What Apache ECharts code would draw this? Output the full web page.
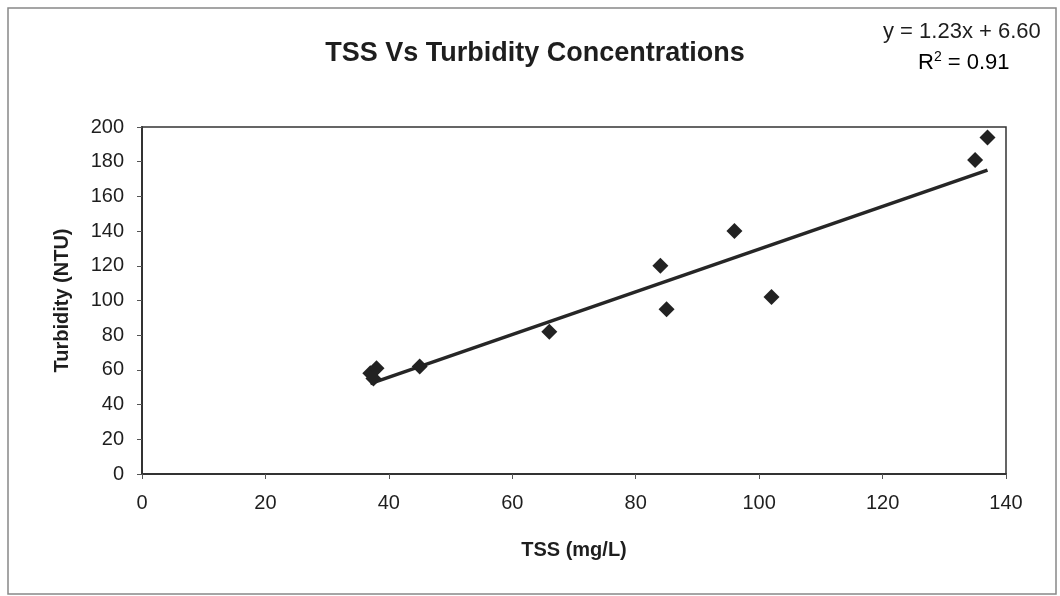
<!DOCTYPE html>
<html>
<head>
<meta charset="utf-8">
<script src="https://cdn.jsdelivr.net/npm/echarts@6/dist/echarts.min.js"></script>
<style>html,body{margin:0;padding:0;background:#fff;}#c{width:1060px;height:596px;}</style>
</head>
<body>
<div id="c"></div>
<script>
const tssValues = [37, 38, 37.5, 45, 66, 84, 85, 96, 102, 135, 137];
const turbidityValues = [58, 61, 55, 62, 82, 120, 95, 140, 102, 181, 194];
const trendSlope = 1.23;
const trendIntercept = 6.60;
const trendXRange = [37, 137];
const equationText = 'y = 1.23x + 6.60';
const r2Text = '0.91';

const points = tssValues.map((x, i) => [x, turbidityValues[i]]);
const trend = trendXRange.map(x => [x, trendSlope * x + trendIntercept]);

const chart = echarts.init(document.getElementById('c'));
const font = 'Arial, "Liberation Sans", sans-serif';
chart.setOption({
  animation: false,
  backgroundColor: '#fff',
  title: {
    text: 'TSS Vs Turbidity Concentrations',
    left: 530, top: 35, textAlign: 'center',
    textStyle: { fontFamily: font, fontSize: 27, fontWeight: 'bold', color: '#1e1e1e' }
  },
  graphic: [
    { type: 'rect', shape: { x: 8, y: 8, width: 1048, height: 586 }, style: { fill: 'none', stroke: '#888', lineWidth: 1.5 }, silent: true },
    { type: 'text', left: 883, top: 21, style: { text: equationText, font: '22px ' + font, fill: '#1e1e1e' } },
    { type: 'text', left: 918, top: 50, style: {
      text: '{a|R}{s|2}{a| = ' + r2Text + '}',
      rich: { a: { fontFamily: font, fontSize: 22, color: '#1e1e1e', verticalAlign: 'bottom' },
              s: { fontFamily: font, fontSize: 14, color: '#1e1e1e', verticalAlign: 'top', padding: [0,0,10,0] } }
    } }
  ],
  grid: { left: 142, right: 54, top: 127, bottom: 122, show: true, borderColor: '#333', borderWidth: 1.5, backgroundColor: 'transparent' },
  xAxis: {
    type: 'value', min: 0, max: 140, interval: 20,
    name: 'TSS (mg/L)', nameLocation: 'middle', nameGap: 66,
    nameTextStyle: { fontFamily: font, fontSize: 20, fontWeight: 'bold', color: '#1e1e1e' },
    axisLine: { lineStyle: { color: '#333', width: 2 } },
    axisTick: { show: true, inside: false, length: 5, lineStyle: { color: '#555' } },
    axisLabel: { fontFamily: font, fontSize: 20, color: '#1e1e1e', margin: 19 },
    splitLine: { show: false }
  },
  yAxis: {
    type: 'value', min: 0, max: 200, interval: 20,
    name: 'Turbidity (NTU)', nameLocation: 'middle', nameGap: 70, nameRotate: 90,
    nameTextStyle: { fontFamily: font, fontSize: 20, fontWeight: 'bold', color: '#1e1e1e' },
    axisLine: { lineStyle: { color: '#333', width: 2 } },
    axisTick: { show: true, inside: false, length: 5, lineStyle: { color: '#555' } },
    axisLabel: { fontFamily: font, fontSize: 20, color: '#1e1e1e', margin: 18 },
    splitLine: { show: false }
  },
  series: [
    { type: 'line', data: trend, showSymbol: false, symbol: 'none', lineStyle: { color: '#262626', width: 3.5 }, z: 2 },
    { type: 'scatter', data: points, symbol: 'diamond', symbolSize: 16, itemStyle: { color: '#222', opacity: 1 }, z: 3 }
  ]
});
</script>
</body>
</html>
